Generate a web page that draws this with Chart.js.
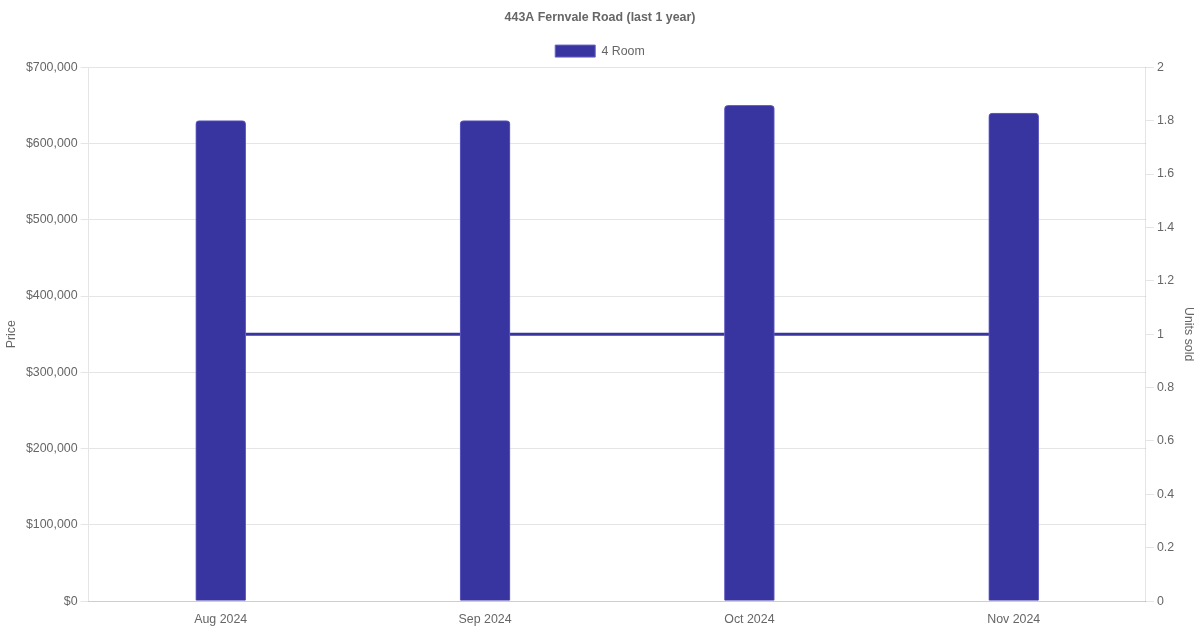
<!DOCTYPE html>
<html>
<head>
<meta charset="utf-8">
<script src="https://cdn.jsdelivr.net/npm/chart.js@4/dist/chart.umd.min.js"></script>
<style>
  html, body { margin: 0; padding: 0; background: #fff; }
  #wrap { width: 1200px; height: 630px; }
</style>
</head>
<body>
<div id="wrap"><canvas id="chart"></canvas></div>
<script>
// Chart data
const months = ['Aug 2024', 'Sep 2024', 'Oct 2024', 'Nov 2024'];
const prices = [630000, 630000, 650000, 640000];
const unitsSold = [1, 1, 1, 1];

const barColor = '#3935a0';

Chart.defaults.font.family = '"Liberation Sans", Arial, sans-serif';
Chart.defaults.font.size = 12.4;
Chart.defaults.color = '#666';

const ctx = document.getElementById('chart').getContext('2d');
new Chart(ctx, {
    data: {
        labels: months,
        datasets: [
            {
                type: 'line',
                label: 'Units sold',
                data: unitsSold,
                yAxisID: 'yUnits',
                borderColor: barColor,
                backgroundColor: barColor,
                borderWidth: 3,
                pointRadius: 0,
                order: 2
            },
            {
                type: 'bar',
                label: '4 Room',
                data: prices,
                yAxisID: 'yPrice',
                backgroundColor: barColor,
                borderColor: '#6662c4',
                borderWidth: 1,
                borderRadius: 4,
                borderSkipped: 'bottom',
                barThickness: 50,
                order: 1
            }
        ]
    },
    options: {
        responsive: true,
        maintainAspectRatio: false,
        animation: false,
        plugins: {
            title: {
                display: true,
                text: '443A Fernvale Road (last 1 year)',
                font: { size: 12.4, weight: 'bold' },
                padding: { top: 10, bottom: 10 }
            },
            legend: {
                labels: {
                    filter: item => item.text === '4 Room',
                    boxWidth: 40,
                    boxHeight: 12
                }
            }
        },
        scales: {
            x: {
                grid: { display: false }
            },
            yPrice: {
                position: 'left',
                min: 0,
                max: 700000,
                ticks: {
                    stepSize: 100000,
                    callback: v => '$' + v.toLocaleString('en-US')
                },
                title: { display: true, text: 'Price' }
            },
            yUnits: {
                position: 'right',
                min: 0,
                max: 2,
                ticks: {
                    stepSize: 0.2,
                    callback: v => String(Math.round(v * 10) / 10)
                },
                grid: { drawOnChartArea: false },
                title: { display: true, text: 'Units sold' }
            }
        }
    }
});
</script>
</body>
</html>
